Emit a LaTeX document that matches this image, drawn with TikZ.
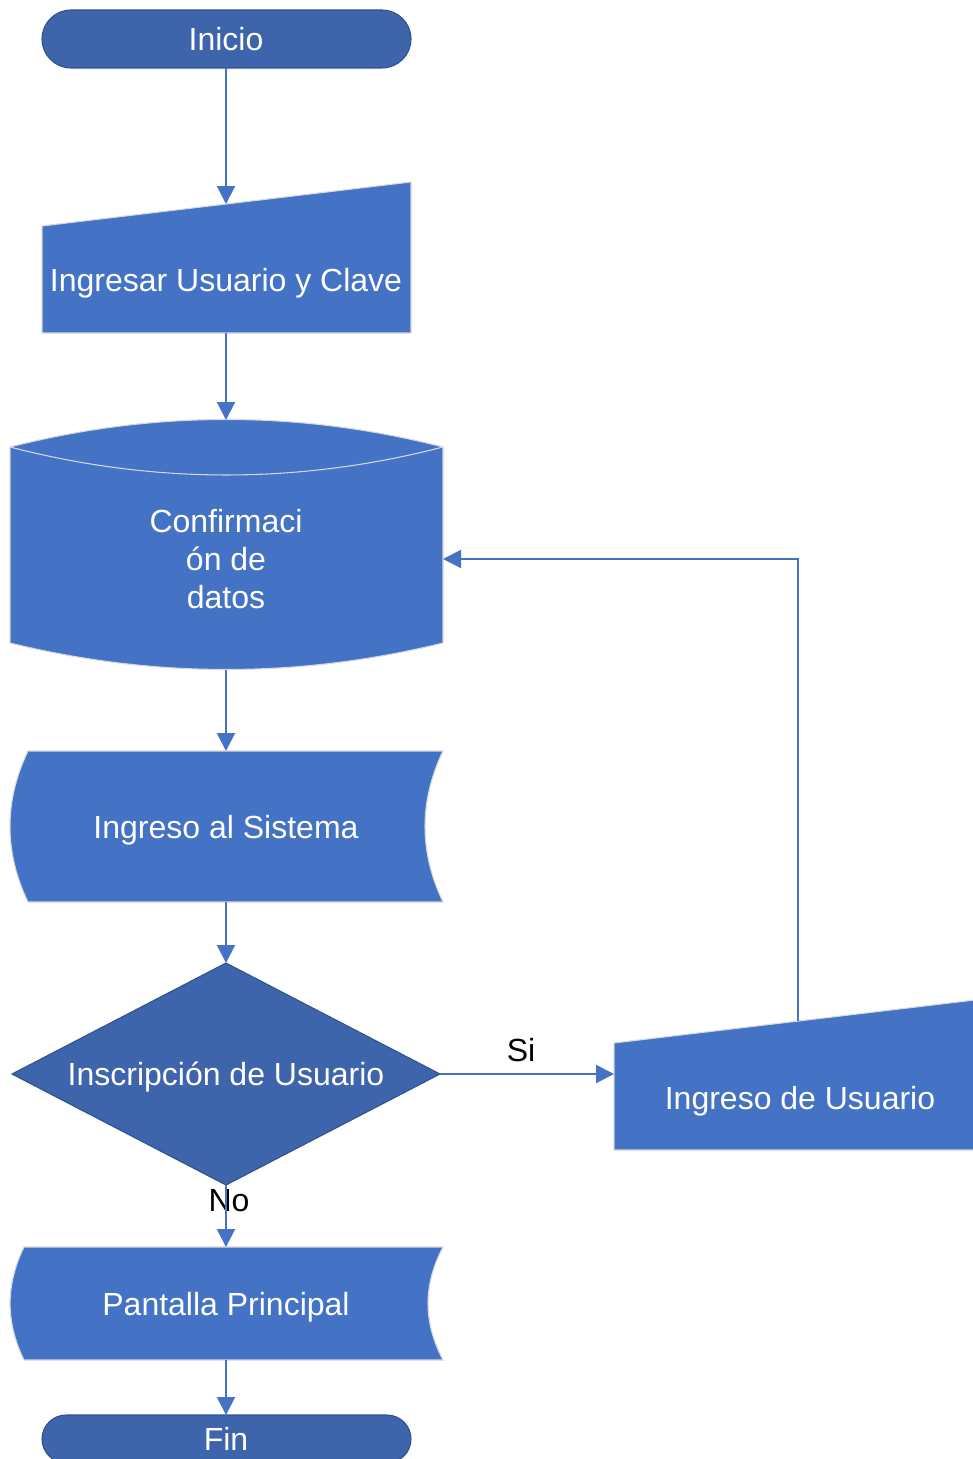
\documentclass[tikz,border=0pt]{standalone}
\usepackage{fontspec}
\setmainfont{Liberation Sans}
\usetikzlibrary{arrows.meta}
\definecolor{fillblue}{HTML}{4472C4}
\definecolor{darkblue}{HTML}{3E64AC}
\definecolor{darkedge}{HTML}{2F528F}
\definecolor{lightedge}{HTML}{D4D8E0}
\begin{document}
\begin{tikzpicture}[x=0.75pt,y=-0.75pt,
  shapelight/.style={fill=fillblue,draw=lightedge,line width=0.8pt},
  shapedark/.style={fill=darkblue,draw=darkedge,line width=0.8pt},
  txt/.style={text=white,font=\fontsize{24}{28.8}\selectfont,inner sep=0pt},
  lbl/.style={text=black,font=\fontsize{24}{28.8}\selectfont,inner sep=0pt},
  conn/.style={draw=fillblue,line width=1.5pt},
  arr/.style={conn,-{Triangle[length=13.5pt,width=13.5pt]}}]
\useasboundingbox (0,0) rectangle (973,1459);
% shapes
\path[shapedark,rounded corners=21.75pt] (42,10) rectangle (411,68);
\path[shapelight] (42,226) -- (411,182) -- (411,333) -- (42,333) -- cycle;
\path[shapelight] (10,447) .. controls (154,410.3) and (299,410.3) .. (443,447)
  -- (443,643) .. controls (299,678.3) and (154,678.3) .. (10,643) -- cycle;
\draw[lightedge,line width=0.8pt] (10,447) .. controls (154,484.3) and (299,484.3) .. (443,447);
\path[shapelight] (28,751) -- (443,751) .. controls (419,801) and (419,852) .. (443,902)
  -- (28,902) .. controls (4,852) and (4,801) .. (28,751) -- cycle;
\path[shapedark] (226,963) -- (440,1074) -- (226,1185) -- (12,1074) -- cycle;
\path[shapelight] (614,1043) -- (975,1000) -- (975,1150) -- (614,1150) -- cycle;
\path[shapelight] (24,1247) -- (443,1247) .. controls (423,1285) and (423,1322) .. (443,1360)
  -- (24,1360) .. controls (5.5,1322) and (5.5,1285) .. (24,1247) -- cycle;
\path[shapedark,rounded corners=18pt] (42,1415) rectangle (411,1463);
% texts
\node[txt] (inicio) at (226,39) {Inicio};
\node[txt] (ingresar) at (226,283) {Ingresar Usuario y Clave};
\node[txt,align=center] (confirm) at (226,559) {Confirmaci\\ón de\\datos};
\node[txt] (sistema) at (226,830) {Ingreso al Sistema};
\node[txt] (inscripcion) at (226,1077) {Inscripción de Usuario};
\node[txt] (ingusr) at (800,1101) {Ingreso de Usuario};
\node[txt] (pantalla) at (226,1307) {Pantalla Principal};
\node[txt] (fin) at (226,1439) {Fin};
\node[lbl] (si) at (521,1050) {Si};
\node[lbl] (no) at (229,1201) {No};
% connector anchors
\coordinate (inicio-s) at (226,68);
\coordinate (ingresar-n) at (226,204);
\coordinate (ingresar-s) at (226,333);
\coordinate (confirm-n) at (226,420);
\coordinate (confirm-s) at (226,670);
\coordinate (confirm-e) at (443,559);
\coordinate (sistema-n) at (226,751);
\coordinate (sistema-s) at (226,902);
\coordinate (dec-n) at (226,963);
\coordinate (dec-e) at (440,1074);
\coordinate (dec-s) at (226,1185);
\coordinate (ingusr-w) at (614,1074);
\coordinate (ingusr-n) at (798,1021);
\coordinate (pantalla-n) at (226,1247);
\coordinate (pantalla-s) at (226,1360);
\coordinate (fin-n) at (226,1415);
% connectors
\draw[arr] (inicio-s) -- (ingresar-n);
\draw[arr] (ingresar-s) -- (confirm-n);
\draw[arr] (confirm-s) -- (sistema-n);
\draw[arr] (sistema-s) -- (dec-n);
\draw[arr] (dec-e) -- (ingusr-w);
\draw[arr] (ingusr-n) |- (confirm-e);
\draw[arr] (dec-s) -- (pantalla-n);
\draw[arr] (pantalla-s) -- (fin-n);
\end{tikzpicture}
\end{document}
